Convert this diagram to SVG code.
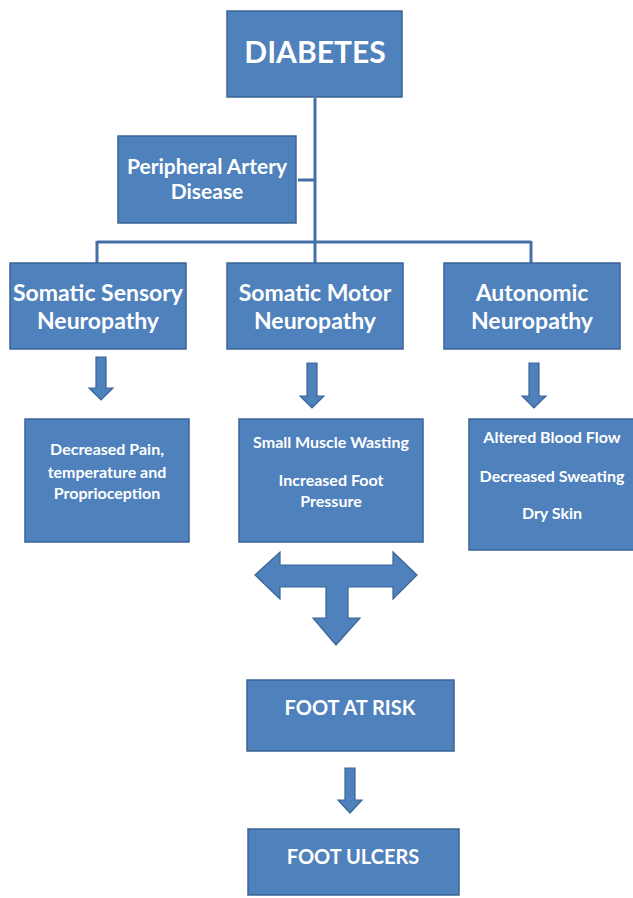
<svg xmlns="http://www.w3.org/2000/svg" width="633" height="898" viewBox="0 0 633 898">
<style>
.box{fill:#4F81BD;stroke:#3A6496;stroke-width:1.5}
.t{fill:#fff;font-family:Lato,"Liberation Sans",sans-serif;font-weight:bold;text-anchor:middle}
.h{font-size:23px}
.s{font-size:16px}
.line{stroke:#4470A8;stroke-width:3;fill:none}
.arr{fill:#4F81BD;stroke:#3A6496;stroke-width:1.2}
</style>
<rect width="633" height="898" fill="#fff"/>
<g id="connectors">
<path class="line" d="M315,98 V263 M97,242 H531 M97,241 V263 M531,241 V263 M298,180 H315"/>
<path id="a1" class="arr" d="M96,357 H106 V388 H113 L101,400 L89,388 H96 Z"/>
<path id="a2" class="arr" d="M307,363 H317 V396 H324 L312,408 L300,396 H307 Z"/>
<path id="a3" class="arr" d="M529,363 H539 V396 H546 L534,408 L522,396 H529 Z"/>
<path id="a4" class="arr" d="M255,575 L280,552 V565 H393 V552 L417,575 L393,599 V587 H348 V618 H360 L336,645 L313,618 H326 V587 H280 V599 Z"/>
<path id="a5" class="arr" d="M345,768 H355 V800 H362 L350,813 L338,800 H345 Z"/>
</g>
<g id="diabetes">
<rect class="box" x="227" y="11" width="175" height="86"/>
<text class="t" x="315" y="63" font-size="30">DIABETES</text>
</g>
<g id="pad">
<rect class="box" x="118" y="136" width="178" height="87"/>
<text class="t" x="207" y="174" font-size="21">Peripheral Artery</text>
<text class="t" x="207" y="199" font-size="21">Disease</text>
</g>
<g id="sensory">
<rect class="box" x="10" y="263" width="176" height="86"/>
<text class="t h" x="98" y="301">Somatic Sensory</text>
<text class="t h" x="98" y="329">Neuropathy</text>
</g>
<g id="motor">
<rect class="box" x="227" y="263" width="176" height="86"/>
<text class="t h" x="315" y="301">Somatic Motor</text>
<text class="t h" x="315" y="329">Neuropathy</text>
</g>
<g id="autonomic">
<rect class="box" x="444" y="263" width="176" height="86"/>
<text class="t h" x="532" y="301">Autonomic</text>
<text class="t h" x="532" y="329">Neuropathy</text>
</g>
<g id="sensory-effects">
<rect class="box" x="25" y="419" width="164" height="123"/>
<text class="t s" x="107" y="455">Decreased Pain,</text>
<text class="t s" x="107" y="478">temperature and</text>
<text class="t s" x="107" y="499">Proprioception</text>
</g>
<g id="motor-effects">
<rect class="box" x="239" y="419" width="184" height="123"/>
<text class="t s" x="331" y="448">Small Muscle Wasting</text>
<text class="t s" x="331" y="486">Increased Foot</text>
<text class="t s" x="331" y="507">Pressure</text>
</g>
<g id="autonomic-effects">
<rect class="box" x="469" y="419" width="170" height="131"/>
<text class="t s" x="552" y="443">Altered Blood Flow</text>
<text class="t s" x="552" y="482">Decreased Sweating</text>
<text class="t s" x="552" y="519">Dry Skin</text>
</g>
<g id="foot-at-risk">
<rect class="box" x="247" y="680" width="207" height="71"/>
<text class="t" x="350" y="715" font-size="20">FOOT AT RISK</text>
</g>
<g id="foot-ulcers">
<rect class="box" x="248" y="829" width="211" height="66"/>
<text class="t" x="353" y="864" font-size="20">FOOT ULCERS</text>
</g>
</svg>
